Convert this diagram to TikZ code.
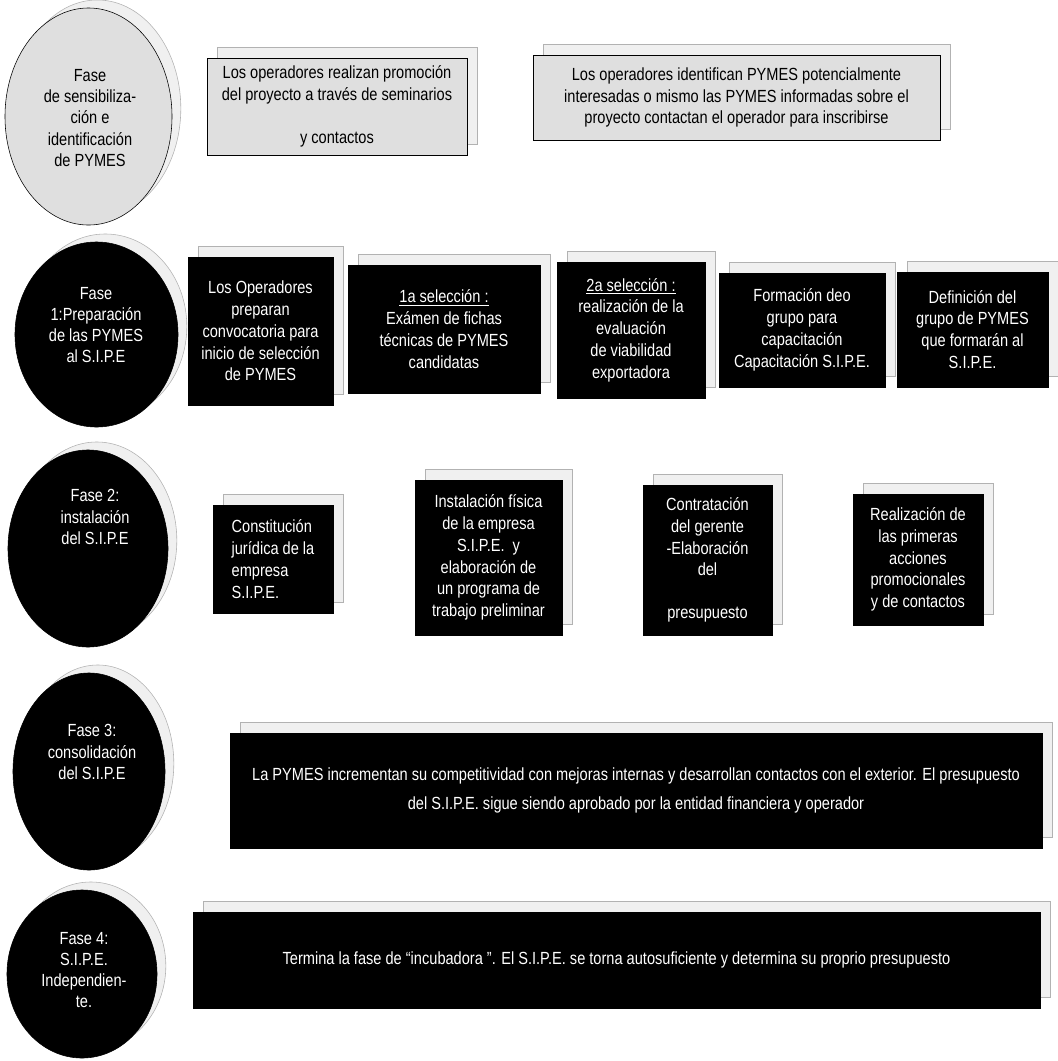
\documentclass[tikz,border=0pt]{standalone}
\usepackage{fontspec}
\setmainfont{Liberation Sans}[FakeStretch=0.83]
\usetikzlibrary{shapes.geometric,shadows}

\tikzset{
  fase/.style={ellipse, inner sep=0pt, draw=black, fill=black,
    copy shadow={shadow xshift=0.22cm, shadow yshift=0.2cm, fill=gray!12, draw=gray!60}},
  faseclara/.style={fase, fill=gray!25},
  fasetxt/.style={text=white, align=center, inner sep=0pt, font=\fontsize{12.5}{15}\selectfont},
  caja/.style={rectangle, inner sep=2pt, draw=black, fill=black, text=white, align=center,
    font=\fontsize{12.5}{15.5}\selectfont,
    copy shadow={shadow xshift=0.25cm, shadow yshift=0.28cm, fill=gray!12, draw=gray!60}},
  cajaclara/.style={caja, fill=gray!25, text=black}
}

\begin{document}
\begin{tikzpicture}[x=0.025cm, y=-0.025cm]
\useasboundingbox (0,0) rectangle (1058,1061);

% fase de sensibilizacion
\node[faseclara, minimum width=4.175cm, minimum height=5.425cm] (f0) at (88.5,116.5) {};
\node[fasetxt, text=black] (t0) at (90,118) {Fase\\de sensibiliza-\\ción e\\identificación\\de PYMES};
\node[cajaclara, minimum width=6.5cm, minimum height=2.425cm] (prom) at (337,106.5)
  {Los operadores realizan promoción\\del proyecto a través de seminarios\\[15pt]y contactos};
\node[cajaclara, minimum width=10.175cm, minimum height=2.125cm] (ident) at (736.5,97.5)
  {Los operadores identifican PYMES potencialmente\\interesadas o mismo las PYMES informadas sobre el\\proyecto contactan el operador para inscribirse};

% fase 1
\node[fase, minimum width=4.075cm, minimum height=4.625cm] (f1) at (96.5,334.5) {};
\node[fasetxt] (t1) at (96,325) {Fase\\1:Preparación\\de las PYMES\\al S.I.P.E};
\node[caja, minimum width=3.625cm, minimum height=3.7cm] (conv) at (260.5,331)
  {Los Operadores\\preparan\\convocatoria para\\inicio de selección\\de PYMES};
\node[caja, minimum width=4.8cm, minimum height=3.2cm] (sel1) at (444,329)
  {\underline{1a selección :}\\Exámen de fichas\\técnicas de PYMES\\candidatas};
\node[caja, minimum width=3.7cm, minimum height=3.4cm] (sel2) at (631,330)
  {\underline{2a selección :}\\realización de la\\evaluación\\de viabilidad\\exportadora};
\node[caja, minimum width=4.15cm, minimum height=2.85cm] (grupo) at (802,330)
  {Formación deo\\grupo para\\capacitación\\Capacitación S.I.P.E.};
\node[caja, minimum width=3.775cm, minimum height=2.875cm] (defin) at (972.5,329.5)
  {Definición del\\grupo de PYMES\\que formarán al\\S.I.P.E.};

% fase 2
\node[fase, minimum width=4cm, minimum height=4.925cm] (f2) at (88,548.5) {};
\node[fasetxt] (t2) at (95,517) {Fase 2:\\instalación\\del S.I.P.E};
\node[caja, align=left, minimum width=3cm, minimum height=2.7cm] (const) at (273,559)
  {Constitución\\jurídica de la\\empresa\\S.I.P.E.};
\node[caja, minimum width=3.675cm, minimum height=3.875cm] (inst) at (488.5,557.5)
  {Instalación física\\de la empresa\\S.I.P.E. \ y\\elaboración de\\un programa de\\trabajo preliminar};
\node[caja, minimum width=3.225cm, minimum height=3.75cm] (contr) at (707.5,560)
  {Contratación\\del gerente\\-Elaboración\\del\\[15pt]presupuesto};
\node[caja, minimum width=3.25cm, minimum height=3.275cm] (accion) at (918,559.5)
  {Realización de\\las primeras\\acciones\\promocionales\\y de contactos};

% fase 3
\node[fase, minimum width=3.8cm, minimum height=4.925cm] (f3) at (89,771.5) {};
\node[fasetxt] (t3) at (92,752) {Fase 3:\\consolidación\\del S.I.P.E};
\node[caja, minimum width=20.3cm, minimum height=2.875cm, font=\fontsize{12.5}{21}\selectfont] (consol) at (636,790.5)
  {La PYMES incrementan su competitividad con mejoras internas y desarrollan contactos con el exterior. El presupuesto\\del S.I.P.E. sigue siendo aprobado por la entidad financiera y operador};

% fase 4
\node[fase, minimum width=3.75cm, minimum height=4.2cm] (f4) at (82,974) {};
\node[fasetxt] (t4) at (84,970) {Fase 4:\\S.I.P.E.\\Independien-\\te.};
\node[caja, minimum width=21.175cm, minimum height=2.4cm] (indep) at (616.5,960)
  {Termina la fase de ``incubadora ''. El S.I.P.E. se torna autosuficiente y determina su proprio presupuesto};
\end{tikzpicture}
\end{document}
